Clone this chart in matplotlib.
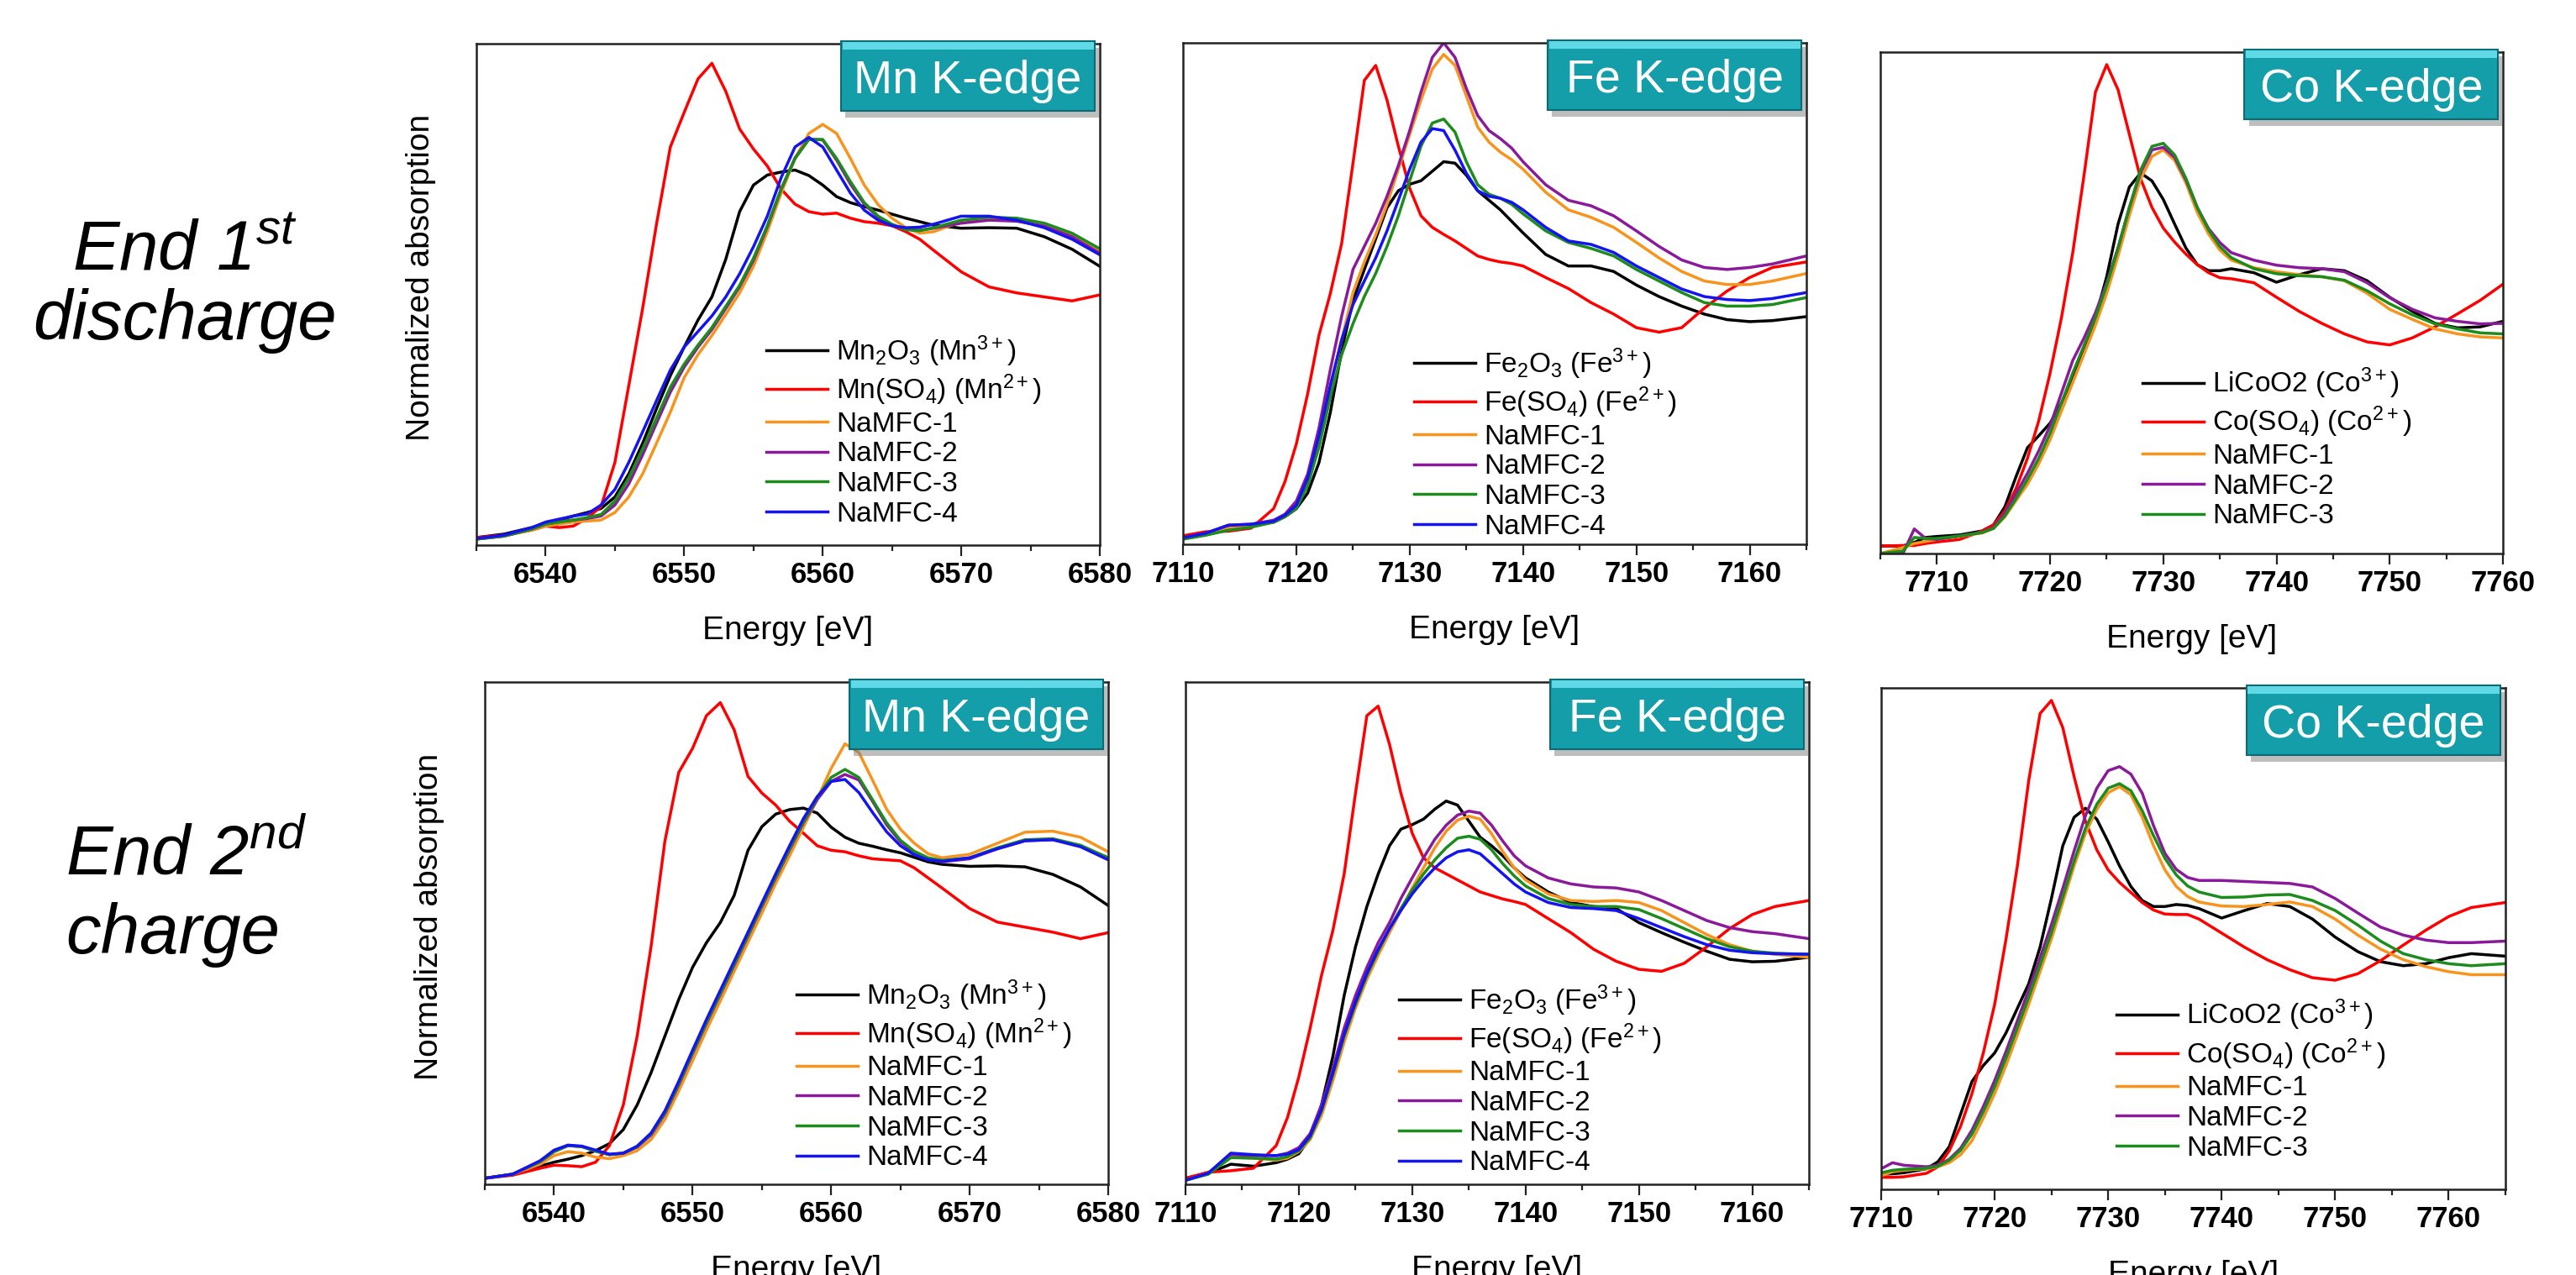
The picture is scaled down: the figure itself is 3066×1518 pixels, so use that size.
import matplotlib.pyplot as plt
from matplotlib.patches import Rectangle
from matplotlib.ticker import MultipleLocator

plt.rcParams['font.family'] = ['Liberation Sans', 'DejaVu Sans']
plt.rcParams['mathtext.fontset'] = 'custom'
plt.rcParams['mathtext.rm'] = 'Liberation Sans'
plt.rcParams['mathtext.it'] = 'Liberation Sans:italic'
plt.rcParams['mathtext.bf'] = 'Liberation Sans:bold'
plt.rcParams['mathtext.default'] = 'regular'

# ---- Mn K-edge (energy grid shared by both rows) ----
MN_E = [6535, 6537, 6539, 6540, 6541, 6542, 6543, 6544, 6545, 6546, 6547, 6548, 6549,
        6550, 6551, 6552, 6553, 6554, 6555, 6556, 6557, 6558, 6559, 6560, 6561, 6562,
        6563, 6564, 6565, 6566, 6567, 6568, 6570, 6572, 6574, 6576, 6578, 6580]

# end of 1st discharge
MN_D_MN2O3 = [0.015, 0.022, 0.035, 0.042, 0.050, 0.058, 0.065, 0.073, 0.096, 0.142, 0.203, 0.272, 0.338,
              0.395, 0.449, 0.495, 0.570, 0.665, 0.718, 0.738, 0.744, 0.748, 0.737, 0.718, 0.695, 0.683,
              0.675, 0.668, 0.660, 0.652, 0.645, 0.638, 0.632, 0.633, 0.632, 0.615, 0.590, 0.556]
MN_D_MNSO4 = [0.015, 0.020, 0.030, 0.038, 0.035, 0.038, 0.054, 0.077, 0.165, 0.318, 0.472, 0.640, 0.794,
              0.863, 0.930, 0.961, 0.905, 0.830, 0.790, 0.756, 0.710, 0.680, 0.665, 0.660, 0.662, 0.652,
              0.645, 0.642, 0.637, 0.625, 0.610, 0.588, 0.545, 0.515, 0.503, 0.495, 0.487, 0.499]
MN_D_N1 = [0.012, 0.018, 0.030, 0.038, 0.042, 0.046, 0.048, 0.050, 0.065, 0.096, 0.142, 0.203, 0.265,
           0.334, 0.380, 0.418, 0.460, 0.503, 0.556, 0.625, 0.702, 0.771, 0.821, 0.839, 0.821, 0.771,
           0.718, 0.679, 0.652, 0.633, 0.622, 0.625, 0.645, 0.650, 0.647, 0.637, 0.618, 0.587]
MN_D_N2 = [0.012, 0.018, 0.032, 0.042, 0.047, 0.050, 0.053, 0.058, 0.080, 0.122, 0.180, 0.243, 0.305,
           0.355, 0.395, 0.430, 0.472, 0.515, 0.568, 0.635, 0.710, 0.772, 0.810, 0.808, 0.768, 0.720,
           0.680, 0.654, 0.638, 0.630, 0.628, 0.632, 0.642, 0.648, 0.646, 0.636, 0.615, 0.582]
MN_D_N3 = [0.012, 0.018, 0.032, 0.042, 0.046, 0.050, 0.055, 0.061, 0.088, 0.134, 0.192, 0.253, 0.315,
           0.361, 0.399, 0.434, 0.476, 0.518, 0.572, 0.637, 0.710, 0.771, 0.809, 0.809, 0.771, 0.725,
           0.683, 0.656, 0.640, 0.629, 0.627, 0.633, 0.648, 0.654, 0.652, 0.642, 0.622, 0.591]
MN_D_N4 = [0.013, 0.020, 0.035, 0.046, 0.052, 0.058, 0.062, 0.080, 0.111, 0.165, 0.226, 0.288, 0.349,
           0.395, 0.426, 0.457, 0.495, 0.541, 0.595, 0.656, 0.733, 0.794, 0.813, 0.794, 0.748, 0.702,
           0.668, 0.648, 0.637, 0.633, 0.634, 0.640, 0.656, 0.656, 0.648, 0.633, 0.610, 0.579]

# end of 2nd charge
MN_C_MN2O3 = [0.012, 0.020, 0.036, 0.044, 0.050, 0.057, 0.067, 0.081, 0.109, 0.158, 0.222, 0.295, 0.368,
              0.432, 0.481, 0.521, 0.575, 0.665, 0.712, 0.737, 0.746, 0.749, 0.739, 0.711, 0.691, 0.679,
              0.673, 0.666, 0.660, 0.651, 0.642, 0.637, 0.633, 0.634, 0.632, 0.617, 0.592, 0.555]
MN_C_MNSO4 = [0.012, 0.018, 0.032, 0.038, 0.037, 0.035, 0.044, 0.077, 0.158, 0.295, 0.473, 0.683, 0.820,
              0.868, 0.933, 0.959, 0.905, 0.812, 0.779, 0.755, 0.723, 0.699, 0.674, 0.665, 0.662, 0.654,
              0.648, 0.646, 0.644, 0.630, 0.610, 0.590, 0.549, 0.522, 0.512, 0.502, 0.489, 0.501]
MN_C_N1 = [0.012, 0.020, 0.040, 0.057, 0.065, 0.062, 0.054, 0.051, 0.057, 0.067, 0.089, 0.129, 0.186,
           0.246, 0.307, 0.365, 0.424, 0.482, 0.540, 0.599, 0.654, 0.711, 0.767, 0.828, 0.877, 0.860,
           0.804, 0.747, 0.707, 0.679, 0.658, 0.650, 0.657, 0.679, 0.701, 0.703, 0.691, 0.662]
MN_C_N2 = [0.012, 0.020, 0.045, 0.065, 0.077, 0.075, 0.066, 0.059, 0.062, 0.074, 0.098, 0.140, 0.198,
           0.260, 0.320, 0.378, 0.436, 0.494, 0.553, 0.610, 0.666, 0.720, 0.766, 0.802, 0.816, 0.805,
           0.762, 0.716, 0.682, 0.660, 0.647, 0.642, 0.648, 0.668, 0.684, 0.686, 0.674, 0.650]
MN_C_N3 = [0.012, 0.020, 0.045, 0.065, 0.077, 0.075, 0.066, 0.059, 0.062, 0.075, 0.100, 0.142, 0.200,
           0.262, 0.322, 0.380, 0.438, 0.496, 0.555, 0.612, 0.668, 0.722, 0.770, 0.810, 0.826, 0.810,
           0.765, 0.720, 0.685, 0.663, 0.650, 0.645, 0.650, 0.670, 0.686, 0.688, 0.675, 0.650]
MN_C_N4 = [0.012, 0.020, 0.047, 0.068, 0.078, 0.076, 0.068, 0.060, 0.062, 0.076, 0.102, 0.146, 0.205,
           0.267, 0.328, 0.386, 0.444, 0.502, 0.560, 0.618, 0.674, 0.728, 0.772, 0.802, 0.806, 0.780,
           0.740, 0.702, 0.674, 0.656, 0.646, 0.643, 0.650, 0.668, 0.684, 0.686, 0.672, 0.646]

# ---- Fe K-edge ----
FE_E = [7110, 7112, 7114, 7116, 7118, 7119, 7120, 7121, 7122, 7123, 7124, 7125, 7126, 7127,
        7128, 7129, 7130, 7131, 7132, 7133, 7134, 7135, 7136, 7137, 7138, 7139, 7140, 7142,
        7144, 7146, 7148, 7150, 7152, 7154, 7156, 7158, 7160, 7162, 7165]

FE_D_FE2O3 = [0.013, 0.020, 0.036, 0.038, 0.044, 0.055, 0.071, 0.102, 0.163, 0.263, 0.386, 0.486, 0.548, 0.609,
              0.671, 0.705, 0.718, 0.725, 0.744, 0.763, 0.760, 0.736, 0.705, 0.686, 0.667, 0.644, 0.621, 0.578,
              0.555, 0.555, 0.544, 0.517, 0.494, 0.475, 0.459, 0.448, 0.444, 0.446, 0.454]
FE_D_FESO4 = [0.017, 0.025, 0.026, 0.032, 0.071, 0.125, 0.200, 0.300, 0.417, 0.500, 0.600, 0.760, 0.925, 0.955,
              0.886, 0.794, 0.710, 0.655, 0.632, 0.618, 0.605, 0.590, 0.575, 0.568, 0.563, 0.560, 0.555, 0.532,
              0.510, 0.482, 0.459, 0.432, 0.423, 0.432, 0.471, 0.505, 0.532, 0.552, 0.563]
FE_D_N1 = [0.013, 0.020, 0.032, 0.036, 0.044, 0.055, 0.080, 0.125, 0.200, 0.310, 0.408, 0.502, 0.563, 0.617,
           0.678, 0.748, 0.817, 0.886, 0.948, 0.977, 0.955, 0.894, 0.832, 0.802, 0.782, 0.767, 0.748, 0.702,
           0.667, 0.652, 0.632, 0.602, 0.571, 0.544, 0.525, 0.518, 0.518, 0.525, 0.540]
FE_D_N2 = [0.013, 0.022, 0.038, 0.040, 0.048, 0.060, 0.086, 0.140, 0.232, 0.348, 0.455, 0.548, 0.594, 0.640,
           0.694, 0.755, 0.825, 0.902, 0.971, 1.000, 0.971, 0.909, 0.855, 0.825, 0.809, 0.790, 0.763, 0.717,
           0.686, 0.675, 0.655, 0.625, 0.594, 0.567, 0.552, 0.548, 0.552, 0.559, 0.575]
FE_D_N3 = [0.010, 0.018, 0.028, 0.034, 0.044, 0.055, 0.071, 0.117, 0.194, 0.294, 0.378, 0.440, 0.494, 0.540,
           0.594, 0.655, 0.725, 0.794, 0.840, 0.848, 0.822, 0.763, 0.717, 0.698, 0.690, 0.678, 0.659, 0.625,
           0.602, 0.590, 0.575, 0.548, 0.525, 0.502, 0.482, 0.475, 0.475, 0.478, 0.492]
FE_D_N4 = [0.013, 0.022, 0.038, 0.040, 0.046, 0.058, 0.078, 0.132, 0.217, 0.317, 0.408, 0.478, 0.525, 0.571,
           0.625, 0.686, 0.748, 0.802, 0.829, 0.825, 0.786, 0.740, 0.705, 0.694, 0.690, 0.682, 0.667, 0.632,
           0.605, 0.598, 0.582, 0.555, 0.532, 0.509, 0.494, 0.488, 0.486, 0.490, 0.502]

FE_C_FE2O3 = [0.012, 0.022, 0.040, 0.036, 0.043, 0.050, 0.061, 0.093, 0.158, 0.254, 0.376, 0.473, 0.553, 0.618,
              0.674, 0.707, 0.716, 0.727, 0.747, 0.763, 0.755, 0.723, 0.691, 0.674, 0.654, 0.630, 0.610, 0.582,
              0.561, 0.553, 0.549, 0.521, 0.501, 0.482, 0.464, 0.448, 0.443, 0.444, 0.452]
FE_C_FESO4 = [0.012, 0.024, 0.027, 0.032, 0.077, 0.133, 0.214, 0.311, 0.416, 0.505, 0.618, 0.779, 0.933, 0.952,
              0.876, 0.779, 0.699, 0.650, 0.630, 0.618, 0.606, 0.594, 0.582, 0.575, 0.568, 0.563, 0.557, 0.529,
              0.501, 0.468, 0.444, 0.428, 0.424, 0.440, 0.473, 0.509, 0.537, 0.553, 0.565]
FE_C_N1 = [0.008, 0.022, 0.054, 0.052, 0.048, 0.052, 0.065, 0.089, 0.137, 0.206, 0.283, 0.351, 0.408, 0.456,
           0.501, 0.545, 0.590, 0.630, 0.670, 0.703, 0.725, 0.733, 0.727, 0.698, 0.662, 0.630, 0.606, 0.578,
           0.565, 0.563, 0.565, 0.561, 0.545, 0.521, 0.497, 0.477, 0.464, 0.458, 0.452]
FE_C_N2 = [0.008, 0.022, 0.059, 0.057, 0.057, 0.062, 0.073, 0.101, 0.158, 0.230, 0.311, 0.376, 0.432, 0.481,
           0.521, 0.569, 0.610, 0.650, 0.687, 0.715, 0.735, 0.743, 0.739, 0.715, 0.683, 0.654, 0.634, 0.610,
           0.598, 0.592, 0.590, 0.582, 0.565, 0.545, 0.525, 0.511, 0.503, 0.499, 0.489]
FE_C_N3 = [0.008, 0.020, 0.053, 0.052, 0.050, 0.055, 0.067, 0.093, 0.146, 0.218, 0.295, 0.359, 0.416, 0.464,
           0.509, 0.549, 0.586, 0.618, 0.646, 0.670, 0.689, 0.693, 0.687, 0.666, 0.638, 0.614, 0.594, 0.569,
           0.557, 0.553, 0.553, 0.547, 0.529, 0.509, 0.489, 0.473, 0.464, 0.460, 0.458]
FE_C_N4 = [0.008, 0.022, 0.062, 0.059, 0.057, 0.060, 0.069, 0.097, 0.149, 0.222, 0.299, 0.363, 0.420, 0.468,
           0.509, 0.545, 0.578, 0.606, 0.630, 0.650, 0.662, 0.666, 0.658, 0.638, 0.618, 0.598, 0.582, 0.561,
           0.551, 0.549, 0.545, 0.529, 0.511, 0.493, 0.477, 0.466, 0.461, 0.459, 0.458]

# ---- Co K-edge ----
CO_D_E = [7705, 7707, 7708, 7709, 7710, 7712, 7714, 7715, 7716, 7717, 7718, 7719, 7720, 7721,
          7722, 7723, 7724, 7725, 7726, 7727, 7728, 7729, 7730, 7731, 7732, 7733, 7734, 7735,
          7736, 7738, 7740, 7742, 7744, 7746, 7748, 7750, 7752, 7754, 7756, 7758, 7760]
CO_D_LICOO2 = [0.015, 0.015, 0.022, 0.032, 0.034, 0.037, 0.045, 0.057, 0.093, 0.154, 0.211, 0.235, 0.260, 0.300,
               0.349, 0.406, 0.470, 0.552, 0.657, 0.731, 0.759, 0.743, 0.706, 0.657, 0.609, 0.576, 0.564, 0.564,
               0.568, 0.560, 0.541, 0.556, 0.568, 0.564, 0.544, 0.511, 0.483, 0.459, 0.450, 0.452, 0.463]
CO_D_COSO4 = [0.015, 0.016, 0.016, 0.020, 0.023, 0.028, 0.045, 0.057, 0.085, 0.130, 0.190, 0.265, 0.360, 0.470,
              0.600, 0.755, 0.920, 0.975, 0.925, 0.836, 0.747, 0.690, 0.649, 0.621, 0.597, 0.576, 0.560, 0.550,
              0.548, 0.540, 0.511, 0.483, 0.459, 0.438, 0.422, 0.416, 0.430, 0.452, 0.478, 0.505, 0.537]
CO_D_N1 = [0.000, 0.012, 0.020, 0.024, 0.028, 0.034, 0.041, 0.050, 0.073, 0.106, 0.138, 0.179, 0.227, 0.284,
           0.341, 0.398, 0.455, 0.519, 0.593, 0.674, 0.747, 0.792, 0.805, 0.784, 0.739, 0.680, 0.637, 0.605,
           0.585, 0.570, 0.562, 0.556, 0.552, 0.544, 0.519, 0.487, 0.467, 0.448, 0.438, 0.432, 0.430]
CO_D_N2 = [0.000, 0.000, 0.049, 0.030, 0.028, 0.035, 0.042, 0.052, 0.080, 0.120, 0.160, 0.205, 0.255, 0.320,
           0.385, 0.430, 0.480, 0.540, 0.610, 0.690, 0.760, 0.805, 0.810, 0.790, 0.745, 0.690, 0.648, 0.620,
           0.600, 0.585, 0.575, 0.570, 0.568, 0.562, 0.540, 0.510, 0.487, 0.470, 0.463, 0.458, 0.459]
CO_D_N3 = [0.000, 0.005, 0.032, 0.030, 0.030, 0.035, 0.042, 0.050, 0.075, 0.110, 0.148, 0.190, 0.240, 0.300,
           0.360, 0.415, 0.470, 0.535, 0.608, 0.690, 0.765, 0.812, 0.818, 0.795, 0.748, 0.690, 0.645, 0.612,
           0.590, 0.568, 0.558, 0.554, 0.552, 0.545, 0.524, 0.498, 0.476, 0.458, 0.448, 0.440, 0.438]

CO_C_E = [7710, 7711, 7712, 7714, 7715, 7716, 7717, 7718, 7719, 7720, 7721, 7722, 7723, 7724,
          7725, 7726, 7727, 7728, 7729, 7730, 7731, 7732, 7733, 7734, 7735, 7736, 7737, 7738,
          7740, 7742, 7744, 7746, 7748, 7750, 7752, 7754, 7756, 7758, 7760, 7762, 7765]
CO_C_LICOO2 = [0.030, 0.031, 0.033, 0.041, 0.055, 0.085, 0.150, 0.215, 0.247, 0.272, 0.312, 0.361, 0.410, 0.483,
               0.580, 0.685, 0.742, 0.760, 0.738, 0.693, 0.645, 0.604, 0.576, 0.564, 0.564, 0.568, 0.566, 0.560,
               0.541, 0.556, 0.570, 0.564, 0.539, 0.503, 0.474, 0.454, 0.446, 0.450, 0.462, 0.470, 0.465]
CO_C_COSO4 = [0.024, 0.024, 0.025, 0.032, 0.045, 0.077, 0.126, 0.191, 0.272, 0.369, 0.499, 0.645, 0.815, 0.949,
              0.975, 0.921, 0.823, 0.734, 0.677, 0.637, 0.612, 0.592, 0.572, 0.557, 0.549, 0.548, 0.548, 0.539,
              0.511, 0.483, 0.458, 0.438, 0.422, 0.417, 0.430, 0.456, 0.487, 0.517, 0.544, 0.562, 0.572]
CO_C_N1 = [0.027, 0.035, 0.038, 0.041, 0.045, 0.053, 0.069, 0.097, 0.142, 0.191, 0.247, 0.308, 0.369, 0.434,
           0.499, 0.572, 0.645, 0.710, 0.758, 0.791, 0.803, 0.787, 0.742, 0.685, 0.637, 0.604, 0.584, 0.573,
           0.565, 0.564, 0.568, 0.573, 0.564, 0.539, 0.507, 0.479, 0.458, 0.444, 0.434, 0.428, 0.428]
CO_C_N2 = [0.041, 0.053, 0.048, 0.045, 0.048, 0.060, 0.082, 0.118, 0.165, 0.217, 0.275, 0.336, 0.398, 0.462,
           0.528, 0.600, 0.675, 0.745, 0.800, 0.835, 0.843, 0.828, 0.790, 0.725, 0.670, 0.638, 0.622, 0.616,
           0.616, 0.614, 0.612, 0.610, 0.603, 0.580, 0.551, 0.523, 0.507, 0.497, 0.492, 0.492, 0.495]
CO_C_N3 = [0.033, 0.038, 0.040, 0.042, 0.046, 0.058, 0.078, 0.110, 0.155, 0.205, 0.262, 0.322, 0.383, 0.447,
           0.512, 0.583, 0.655, 0.720, 0.768, 0.800, 0.809, 0.795, 0.755, 0.705, 0.660, 0.627, 0.605, 0.593,
           0.582, 0.583, 0.587, 0.588, 0.576, 0.556, 0.527, 0.495, 0.470, 0.458, 0.450, 0.446, 0.450]

MN_LABELS = ['Mn$_2$O$_3$ (Mn$^{3+}$)', 'Mn(SO$_4$) (Mn$^{2+}$)',
             'NaMFC-1', 'NaMFC-2', 'NaMFC-3', 'NaMFC-4']
FE_LABELS = ['Fe$_2$O$_3$ (Fe$^{3+}$)', 'Fe(SO$_4$) (Fe$^{2+}$)',
             'NaMFC-1', 'NaMFC-2', 'NaMFC-3', 'NaMFC-4']
CO_LABELS = ['LiCoO2 (Co$^{3+}$)', 'Co(SO$_4$) (Co$^{2+}$)', 'NaMFC-1', 'NaMFC-2', 'NaMFC-3']

COLORS = ['#000000', '#ff0000', '#f7941d', '#8b1a9b', '#1c8c1c', '#1414f0']

FIG_W, FIG_H = 3066, 1518


def add_badge(ax, text):
    x0, y0, w, h = 0.585, 0.866, 0.407, 0.139
    kw = dict(transform=ax.transAxes, clip_on=False)
    ax.add_patch(Rectangle((x0 + 0.007, y0 - 0.013), w, h, facecolor='#7f7f7f', alpha=0.5, lw=0, zorder=5, **kw))
    ax.add_patch(Rectangle((x0, y0), w, h, facecolor='#139eaa', edgecolor='#0b6b74', lw=1.5, zorder=6, **kw))
    ax.add_patch(Rectangle((x0 + 0.002, y0 + h - 0.016), w - 0.004, 0.014, facecolor='#5fd9e6', lw=0, zorder=7, **kw))
    ax.text(x0 + w / 2, y0 + 0.25 * h, text, color='white', fontsize=40, ha='center', va='baseline',
            zorder=8, transform=ax.transAxes)


def draw_panel(box, energy, curves, labels, xlim, legend_xy, edge, ylabel=False):
    x1, y1, x2, y2 = box
    ax = fig.add_axes([x1 / FIG_W, 1 - y2 / FIG_H, (x2 - x1) / FIG_W, (y2 - y1) / FIG_H])
    for values, label, color in zip(curves, labels, COLORS):
        ax.plot(energy, values, color=color, lw=2.5, label=label, solid_joinstyle='round')

    ax.set_xlim(*xlim)
    ax.set_ylim(0, 1)
    ax.set_yticks([])
    ax.xaxis.set_major_locator(MultipleLocator(10))
    ax.xaxis.set_minor_locator(MultipleLocator(5))
    ax.ticklabel_format(axis='x', useOffset=False)
    ax.tick_params(axis='x', which='major', direction='out', length=9, width=1.6,
                   labelsize=25, pad=5, color='#222222')
    ax.tick_params(axis='x', which='minor', direction='out', length=5, width=1.6, color='#222222')
    for t in ax.get_xticklabels():
        t.set_fontweight('bold')
    for sp in ax.spines.values():
        sp.set_linewidth(1.8)
        sp.set_color('#222222')

    ax.set_xlabel('Energy [eV]', fontsize=28)
    ax.xaxis.set_label_coords(0.5, -0.141)
    if ylabel:
        ax.set_ylabel('Normalized absorption', fontsize=28)
        ax.yaxis.set_label_coords(-0.065, 0.533)

    ax.legend(loc='lower left', bbox_to_anchor=legend_xy, frameon=False, fontsize=24,
              handlelength=2.2, handletextpad=0.3, labelspacing=0.14, borderpad=0,
              borderaxespad=0)
    add_badge(ax, edge)
    return ax


fig = plt.figure(figsize=(FIG_W / 100, FIG_H / 100), dpi=100)

draw_panel((567, 52, 1309, 649), MN_E,
           [MN_D_MN2O3, MN_D_MNSO4, MN_D_N1, MN_D_N2, MN_D_N3, MN_D_N4],
           MN_LABELS, (6535, 6580), (0.465, 0.036), 'Mn K-edge', ylabel=True)
draw_panel((1408, 51, 2150, 648), FE_E,
           [FE_D_FE2O3, FE_D_FESO4, FE_D_N1, FE_D_N2, FE_D_N3, FE_D_N4],
           FE_LABELS, (7110, 7165), (0.37, 0.009), 'Fe K-edge')
draw_panel((2238, 62, 2979, 659), CO_D_E,
           [CO_D_LICOO2, CO_D_COSO4, CO_D_N1, CO_D_N2, CO_D_N3],
           CO_LABELS, (7705, 7760), (0.421, 0.048), 'Co K-edge')

draw_panel((577, 812, 1319, 1410), MN_E,
           [MN_C_MN2O3, MN_C_MNSO4, MN_C_N1, MN_C_N2, MN_C_N3, MN_C_N4],
           MN_LABELS, (6535, 6580), (0.50, 0.026), 'Mn K-edge', ylabel=True)
draw_panel((1411, 812, 2153, 1410), FE_E,
           [FE_C_FE2O3, FE_C_FESO4, FE_C_N1, FE_C_N2, FE_C_N3, FE_C_N4],
           FE_LABELS, (7110, 7165), (0.342, 0.016), 'Fe K-edge')
draw_panel((2239, 819, 2982, 1416), CO_C_E,
           [CO_C_LICOO2, CO_C_COSO4, CO_C_N1, CO_C_N2, CO_C_N3],
           CO_LABELS, (7710, 7765), (0.377, 0.056), 'Co K-edge')

# row titles
row_kw = dict(fontsize=60, style='italic', va='baseline')
fig.text(220 / FIG_W, 1 - 322 / FIG_H, 'End 1$^{\\mathit{st}}$', ha='center', **row_kw)
fig.text(220 / FIG_W, 1 - 404 / FIG_H, 'discharge', ha='center', **row_kw)
fig.text(78 / FIG_W, 1 - 1042 / FIG_H, 'End 2$^{\\mathit{nd}}$', ha='left', **row_kw)
fig.text(78 / FIG_W, 1 - 1135 / FIG_H, 'charge', ha='left', **row_kw)

fig.savefig('out.png', dpi=100)
